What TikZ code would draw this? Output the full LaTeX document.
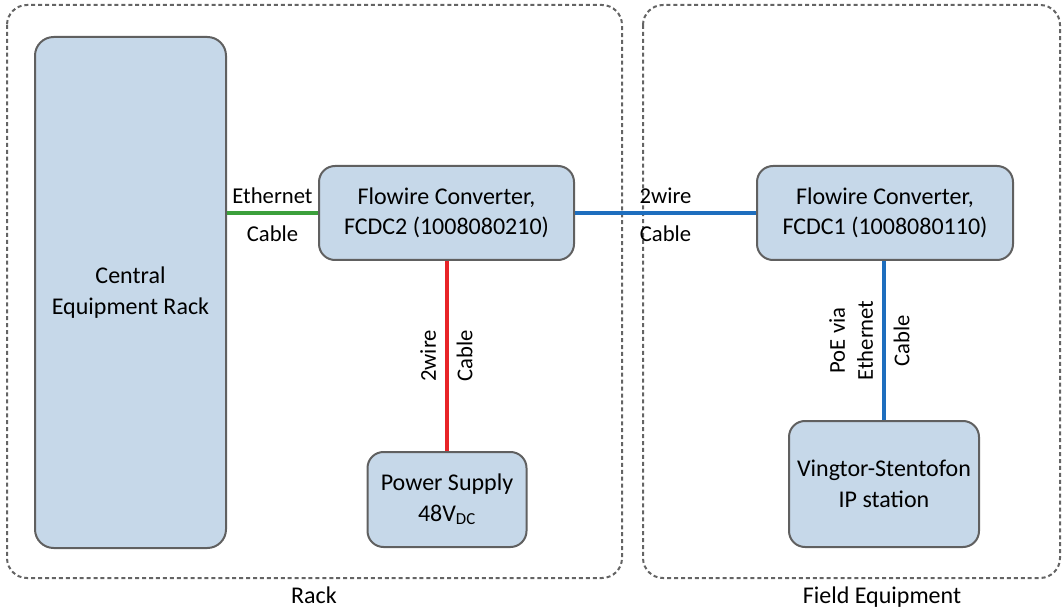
\documentclass[tikz,border=0pt]{standalone}
\usepackage{fontspec}
\setmainfont{Carlito}
\definecolor{boxfill}{RGB}{198,216,233}
\definecolor{boxline}{RGB}{96,96,96}
\definecolor{dashline}{RGB}{100,100,100}
\definecolor{cgreen}{RGB}{60,160,60}
\definecolor{cblue}{RGB}{30,110,190}
\definecolor{cred}{RGB}{232,36,40}
\begin{document}
\begin{tikzpicture}[x=0.75pt,y=-0.75pt,
  unit/.style={draw=boxline, fill=boxfill, line width=1.5pt, rounded corners=12pt,
    align=center, inner sep=0pt, font=\fontsize{18}{23}\selectfont},
  area/.style={draw=dashline, line width=1.5pt, dash pattern=on 3pt off 2.2pt, rounded corners=15pt},
  wire/.style={line width=2.5pt},
  lab/.style={font=\fontsize{17}{21}\selectfont, inner sep=0pt, align=center, text=black},
  areacaption/.style={font=\fontsize{18}{23}\selectfont, inner sep=0pt, anchor=base}]
\useasboundingbox (0,0) rectangle (1063,609);
% areas
\draw[area] (7,5) rectangle (622,578);
\draw[area] (643,5) rectangle (1060,578);
\node[areacaption] (rackcap) at (314,603) {Rack};
\node[areacaption] (fieldcap) at (882,603) {Field Equipment};
% units
\node[unit, minimum width=191*0.75pt, minimum height=511*0.75pt, rounded corners=14pt] (cer) at (130.5,292.5) {Central\\Equipment Rack};
\node[unit, minimum width=255*0.75pt, minimum height=94*0.75pt] (fc2) at (446.5,213) {Flowire Converter,\\FCDC2 (1008080210)};
\node[unit, minimum width=256*0.75pt, minimum height=94*0.75pt] (fc1) at (885,213) {Flowire Converter,\\FCDC1 (1008080110)};
\node[unit, minimum width=159*0.75pt, minimum height=95*0.75pt] (ps) at (447,499.5) {Power Supply\\48V\textsubscript{DC}};
\node[unit, minimum width=190*0.75pt, minimum height=126*0.75pt] (vs) at (884,484) {Vingtor-Stentofon\\IP station};
% connectors
\draw[wire, cgreen] (cer.east |- fc2.west) -- (fc2.west)
  node[lab, midway, above=6pt] (l1) {Ethernet}
  node[lab, midway, below=8pt] (l2) {Cable};
\draw[wire, cblue] (fc2.east) -- (fc1.west)
  node[lab, midway, above=6pt] (l3) {2wire}
  node[lab, midway, below=8pt] (l4) {Cable};
\draw[wire, cred] (ps.north) -- (ps.north |- fc2.south)
  node[lab, midway, rotate=90, above=7pt] (l5) {2wire}
  node[lab, midway, rotate=90, below=6pt] (l6) {Cable};
\draw[wire, cblue] (vs.north) -- (vs.north |- fc1.south)
  node[lab, midway, rotate=90, above=7pt] (l7) {PoE via\\Ethernet}
  node[lab, midway, rotate=90, below=6pt] (l8) {Cable};
\end{tikzpicture}
\end{document}
